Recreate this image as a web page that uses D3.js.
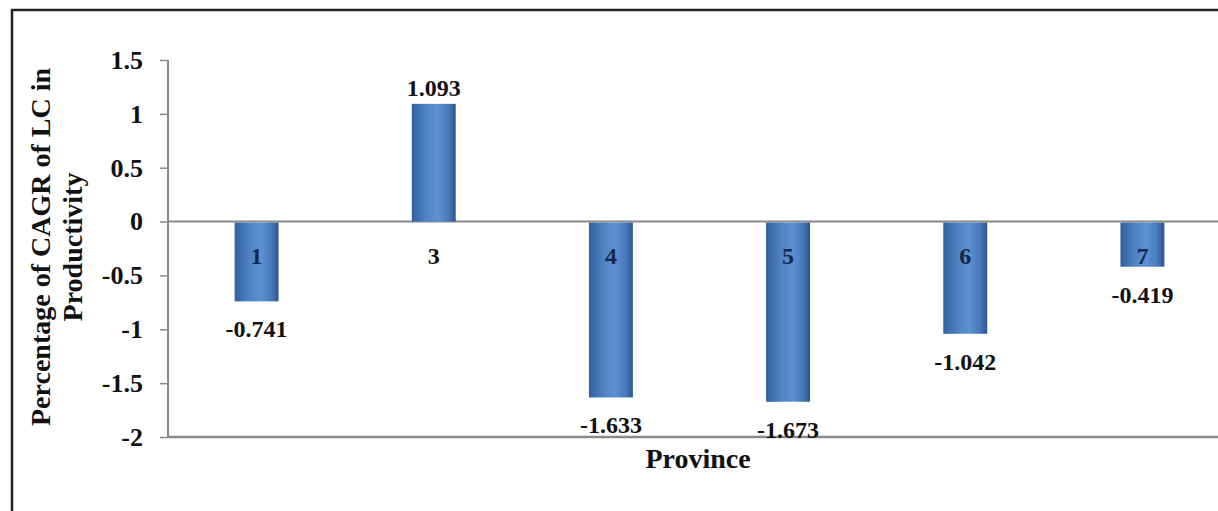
<!DOCTYPE html>
<html><head><meta charset="utf-8">
<script src="https://cdn.jsdelivr.net/npm/d3@7"></script>
<style>html,body{margin:0;padding:0;background:#fff;overflow:hidden}</style>
</head><body>
<svg id="c" width="1218" height="511"></svg>
<script>
const categories = ["1","3","4","5","6","7"];
const values = [-0.741, 1.093, -1.633, -1.673, -1.042, -0.419];
const valueLabels = ["-0.741","1.093","-1.633","-1.673","-1.042","-0.419"];
const yTicks = [-2,-1.5,-1,-0.5,0,0.5,1,1.5];
const yTickLabels = ["-2","-1.5","-1","-0.5","0","0.5","1","1.5"];

const svg = d3.select("#c");
const font = "'Liberation Serif','Times New Roman',serif";

const defs = svg.append("defs");
const g = defs.append("linearGradient").attr("id","barg").attr("x1","0").attr("x2","1").attr("y1","0").attr("y2","0");
[["0%","#31609c"],["35%","#4f84c6"],["60%","#5c91d2"],["85%","#4676b6"],["100%","#2b5790"]].forEach(([o,c])=>g.append("stop").attr("offset",o).attr("stop-color",c));

// outer border
svg.append("rect").attr("x",12).attr("y",10).attr("width",1240).attr("height",540)
  .attr("fill","none").attr("stroke","#222").attr("stroke-width",2.5);

const x = d3.scaleBand().domain(categories).range([168,1231]).paddingInner(0.752).paddingOuter(0.376);
const y = d3.scaleLinear().domain([-2,1.5]).range([437,60]);

// y axis
const yAxis = d3.axisLeft(y).tickValues(yTicks).tickFormat((d,i)=>yTickLabels[i]).tickSize(8).tickPadding(17);
const ya = svg.append("g").attr("transform","translate(168,0)").call(yAxis);
ya.select(".domain").attr("stroke","#8a8a8a").attr("stroke-width",2).attr("d","M0,60V437");
ya.selectAll(".tick line").attr("stroke","#8a8a8a").attr("stroke-width",1.5);
ya.selectAll(".tick text").attr("font-family",font).attr("font-weight","bold").attr("font-size",26).attr("fill","#111");

// bottom axis line at -2
svg.append("line").attr("x1",168).attr("x2",1218).attr("y1",y(-2)).attr("y2",y(-2)).attr("stroke","#8a8a8a").attr("stroke-width",2.5);
// zero line
svg.append("line").attr("x1",168).attr("x2",1218).attr("y1",y(0)).attr("y2",y(0)).attr("stroke","#8a8a8a").attr("stroke-width",2);

// bars
svg.selectAll("rect.bar").data(values).enter().append("rect").attr("class","bar")
  .attr("x",(d,i)=>x(categories[i]))
  .attr("width",x.bandwidth())
  .attr("y",d=>Math.min(y(d),y(0)) + (d<0?1:0))
  .attr("height",d=>Math.abs(y(d)-y(0)) - (d<0?1:0))
  .attr("fill","url(#barg)");

// category labels
svg.selectAll("text.cat").data(categories).enter().append("text").attr("class","cat")
  .attr("x",d=>x(d)+x.bandwidth()/2).attr("y",y(0)+42)
  .attr("text-anchor","middle").attr("font-family",font).attr("font-weight","bold").attr("font-size",24)
  .attr("fill",(d,i)=>values[i]<0?"#16284a":"#111").text(d=>d);

// value labels
svg.selectAll("text.val").data(values).enter().append("text").attr("class","val")
  .attr("x",(d,i)=>x(categories[i])+x.bandwidth()/2)
  .attr("y",d=>d<0? y(d)+36 : y(d)-8)
  .attr("text-anchor","middle").attr("font-family",font).attr("font-weight","bold").attr("font-size",24)
  .attr("fill","#111").text((d,i)=>valueLabels[i]);

// axis titles
svg.append("text").attr("x",698).attr("y",468).attr("text-anchor","middle")
  .attr("font-family",font).attr("font-weight","bold").attr("font-size",28).attr("fill","#111").text("Province");
const yt = svg.append("text").attr("transform","translate(0,247) rotate(-90)").attr("text-anchor","middle")
  .attr("font-family",font).attr("font-weight","bold").attr("font-size",28).attr("fill","#111");
yt.append("tspan").attr("x",0).attr("y",50).text("Percentage of CAGR of LC in");
yt.append("tspan").attr("x",0).attr("y",82).text("Productivity");
</script>
</body></html>
